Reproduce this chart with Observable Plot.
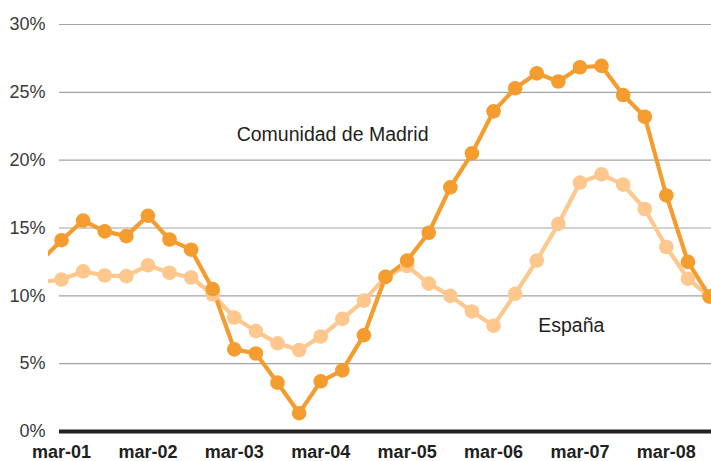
<!DOCTYPE html>
<html>
<head>
<meta charset="utf-8">
<script src="https://cdn.jsdelivr.net/npm/d3@7"></script>
<script src="https://cdn.jsdelivr.net/npm/@observablehq/plot@0.6"></script>
<style>
  html, body { margin: 0; padding: 0; background: #fff; }
  #chart svg { display: block; }
</style>
</head>
<body>
<div id="chart"></div>
<script>
// Quarterly periods (first one lies just outside the visible frame)
const periods = ["dic-00",
  "mar-01","jun-01","sep-01","dic-01",
  "mar-02","jun-02","sep-02","dic-02",
  "mar-03","jun-03","sep-03","dic-03",
  "mar-04","jun-04","sep-04","dic-04",
  "mar-05","jun-05","sep-05","dic-05",
  "mar-06","jun-06","sep-06","dic-06",
  "mar-07","jun-07","sep-07","dic-07",
  "mar-08","jun-08","sep-08"];

// Comunidad de Madrid (%)
const madrid = [12.5,
  14.1, 15.55, 14.75, 14.4,
  15.9, 14.15, 13.4, 10.5,
  6.05, 5.75, 3.6, 1.35,
  3.7, 4.5, 7.1, 11.4,
  12.6, 14.65, 18.0, 20.5,
  23.6, 25.3, 26.4, 25.8,
  26.85, 26.95, 24.8, 23.2,
  17.4, 12.5, 9.95];

// España (%)
const espana = [11.0,
  11.2, 11.8, 11.5, 11.45,
  12.25, 11.7, 11.35, 10.1,
  8.4, 7.4, 6.5, 6.0,
  7.0, 8.3, 9.65, 11.4,
  12.2, 10.9, 10.0, 8.85,
  7.8, 10.15, 12.6, 15.3,
  18.35, 18.95, 18.2, 16.4,
  13.6, 11.25, 9.95];

const yTicks = [0, 5, 10, 15, 20, 25, 30];
const xTickLabels = ["mar-01","mar-02","mar-03","mar-04","mar-05","mar-06","mar-07","mar-08"];

const seriesNames = ["España", "Comunidad de Madrid"];
const seriesColors = ["#fdc78d", "#f59c2f"];

const rows = [];
periods.forEach((p, i) => {
  rows.push({series: "España", i, value: espana[i]});
});
periods.forEach((p, i) => {
  rows.push({series: "Comunidad de Madrid", i, value: madrid[i]});
});

const labels = [
  {text: "Comunidad de Madrid", i: 13.55, value: 21.9},
  {text: "España", i: 24.6, value: 7.8}
];

const font = "'Liberation Sans', Arial, Helvetica, sans-serif";

const chart = Plot.plot({
  width: 711,
  height: 461,
  marginLeft: 48,
  marginRight: 0,
  marginTop: 24,
  marginBottom: 30,
  style: {fontFamily: font, background: "#fff", overflow: "hidden"},
  x: {type: "linear", domain: [0.398, 31.09]},
  y: {domain: [0, 30]},
  color: {domain: seriesNames, range: seriesColors},
  marks: [
    Plot.ruleY(yTicks.filter(d => d > 0), {stroke: "#a3a3a3", strokeWidth: 1.2, insetLeft: 11}),
    Plot.axisY({ticks: yTicks, tickFormat: d => d + "%", tickSize: 0, tickPadding: 3,
      fontSize: 18, fill: "#3a3a3a", label: null}),
    Plot.axisX({ticks: xTickLabels.map(l => periods.indexOf(l)), tickFormat: i => periods[i],
      tickSize: 0, tickPadding: 14, fontSize: 18, fontWeight: "bold", fill: "#231f20", label: null}),
    Plot.line(rows, {x: "i", y: "value", z: "series", stroke: "series", strokeWidth: 4.2, clip: true}),
    Plot.dot(rows, {x: "i", y: "value", fill: "series", r: 7.3, stroke: null, clip: true}),
    Plot.ruleY([0], {stroke: "#231f20", strokeWidth: 4, insetLeft: 11}),
    Plot.text(labels, {x: "i", y: "value", text: "text", fontSize: 19.5, fill: "#231f20",
      textAnchor: "middle", lineAnchor: "middle"})
  ]
});

document.getElementById("chart").appendChild(chart);
</script>
</body>
</html>
